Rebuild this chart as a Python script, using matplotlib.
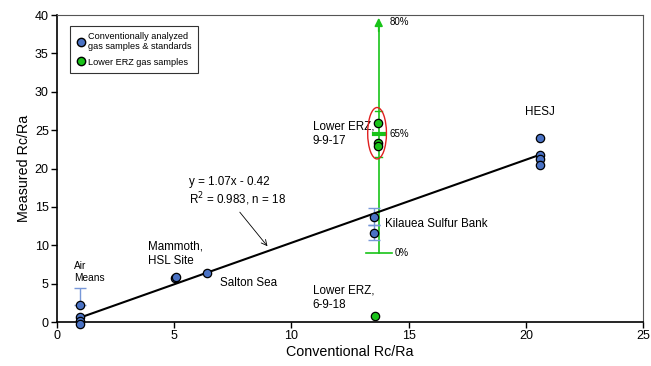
import matplotlib
matplotlib.use("Agg")
import matplotlib.pyplot as plt
from matplotlib.patches import Ellipse

plt.rcParams['font.family'] = ['Liberation Sans', 'DejaVu Sans']

# conventionally analyzed samples (blue)
air_x = [1.0, 1.0, 1.0, 1.0]
air_y = [2.2, 0.6, 0.2, -0.3]
mam_x = [5.05, 5.08]
mam_y = [5.75, 5.9]
salton_x = [6.4]
salton_y = [6.35]
kil_x = [13.52, 13.52]
kil_y = [13.7, 11.65]
kil_err_lo = [1.1, 1.0]
kil_err_hi = [1.15, 1.0]
hesj_x = [20.6, 20.6, 20.6, 20.6]
hesj_y = [24.0, 21.8, 21.2, 20.5]

# lower ERZ samples (green)
erz17_x = [13.7, 13.7, 13.7]
erz17_y = [25.9, 23.3, 22.9]
erz18_x = [13.57]
erz18_y = [0.85]

# green range bar (0%, 65%, 80%)
rng_x = 13.72
rng_lo = 9.0
rng_mid = 24.55
rng_hi = 40.0

# regression line ends
fit_x = [1.0, 20.6]
fit_y = [0.6, 21.8]

blue = '#4a72c4'
eblue = '#7898d8'
green = '#19c319'

fig, ax = plt.subplots(figsize=(6.51, 3.66), dpi=100)
fig.subplots_adjust(left=0.0876, right=0.988, top=0.959, bottom=0.12)

ax.plot(fit_x, fit_y, color='black', lw=1.5, zorder=3)

# green range line with arrow
ax.plot([rng_x, rng_x], [rng_lo, rng_hi - 1.5], color=green, lw=1.2, zorder=2)
ax.annotate('', xy=(rng_x, rng_hi), xytext=(rng_x, rng_hi - 2.5),
            arrowprops=dict(arrowstyle='-|>', color=green, lw=1.2,
                            mutation_scale=12), annotation_clip=False)
ax.plot([rng_x - 0.55, rng_x + 0.55], [rng_lo, rng_lo], color=green, lw=1.2)
ax.plot([rng_x - 0.22, rng_x + 0.22], [rng_mid, rng_mid], color=green, lw=3)
ax.text(14.2, 39.1, '80%', fontsize=7, va='center')
ax.text(14.2, rng_mid, '65%', fontsize=7, va='center')
ax.text(14.42, rng_lo, '0%', fontsize=7, va='center')

# green caps of 9-9-17 group
ax.plot([rng_x - 0.15, rng_x + 0.15], [27.45, 27.45], color=green, lw=1)
ax.plot([rng_x - 0.15, rng_x + 0.15], [21.5, 21.5], color=green, lw=1)

# error bars
ax.errorbar([air_x[0]], [air_y[0]], yerr=[[0], [2.3]], fmt='none',
            ecolor=eblue, elinewidth=1, capsize=4.5, zorder=2)
ax.errorbar(kil_x, kil_y, yerr=[kil_err_lo, kil_err_hi], fmt='none',
            ecolor=eblue, elinewidth=1, capsize=4.5, zorder=2)

mk = dict(marker='o', ms=6, mec='black', mew=0.9, ls='none', zorder=5, clip_on=False)
for xs, ys in [(air_x, air_y), (mam_x, mam_y), (salton_x, salton_y),
               (kil_x, kil_y), (hesj_x, hesj_y)]:
    ax.plot(xs, ys, mfc=blue, **mk)
ax.plot(erz17_x, erz17_y, mfc=green, **mk)
ax.plot(erz18_x, erz18_y, mfc=green, **mk)

ax.add_patch(Ellipse((13.65, 24.6), 0.8, 6.7, fill=False, ec='#e02020', lw=1, zorder=6))

# labels
fs = 8.4
ls = 1.3
ax.text(0.73, 6.5, 'Air\nMeans', fontsize=7.3, va='center', linespacing=ls)
ax.text(3.9, 8.9, 'Mammoth,\nHSL Site', fontsize=fs, va='center', linespacing=ls)
ax.text(6.95, 5.1, 'Salton Sea', fontsize=fs, va='center')
ax.text(14.0, 12.8, 'Kilauea Sulfur Bank', fontsize=fs, va='center')
ax.text(10.9, 24.5, 'Lower ERZ,\n9-9-17', fontsize=fs, va='center', linespacing=ls)
ax.text(10.9, 3.15, 'Lower ERZ,\n6-9-18', fontsize=fs, va='center', linespacing=ls)
ax.text(20.6, 27.4, 'HESJ', fontsize=fs, va='center', ha='center')
ax.text(5.65, 18.2, 'y = 1.07x - 0.42', fontsize=fs, va='center')
ax.text(5.65, 16.0, 'R$^2$ = 0.983, n = 18', fontsize=fs, va='center')
ax.annotate('', xy=(9.05, 9.6), xytext=(7.72, 14.6),
            arrowprops=dict(arrowstyle='->', color='black', lw=0.6))

# legend
leg_h = [plt.Line2D([], [], marker='o', ms=6, mfc=blue, mec='black', ls='none'),
         plt.Line2D([], [], marker='o', ms=6, mfc=green, mec='black', ls='none')]
leg = ax.legend(leg_h, ['Conventionally analyzed\ngas samples & standards',
                        'Lower ERZ gas samples'],
                loc='upper left', bbox_to_anchor=(0.022, 0.965), borderaxespad=0,
                fontsize=6.6, frameon=True, fancybox=False, edgecolor='black',
                handletextpad=0.3, borderpad=0.7, labelspacing=0.7,
                handlelength=1.0)
leg.get_frame().set_linewidth(0.8)
for t in leg.get_texts():
    t.set_linespacing(1.15)

ax.set_xlim(0, 25)
ax.set_ylim(0, 40)
ax.set_xticks([0, 5, 10, 15, 20, 25])
ax.set_yticks(range(0, 41, 5))
ax.tick_params(direction='out', length=4, width=1, labelsize=9, pad=2)
ax.tick_params(top=False, right=False)
for s in ['left', 'bottom']:
    ax.spines[s].set_linewidth(1.2)
for s in ['top', 'right']:
    ax.spines[s].set_linewidth(0.8)
    ax.spines[s].set_color('#555555')
ax.set_xlabel('Conventional Rc/Ra', fontsize=10.3, labelpad=2)
ax.set_ylabel('Measured Rc/Ra', fontsize=10.3, labelpad=3)

fig.savefig('out.png', dpi=100)
